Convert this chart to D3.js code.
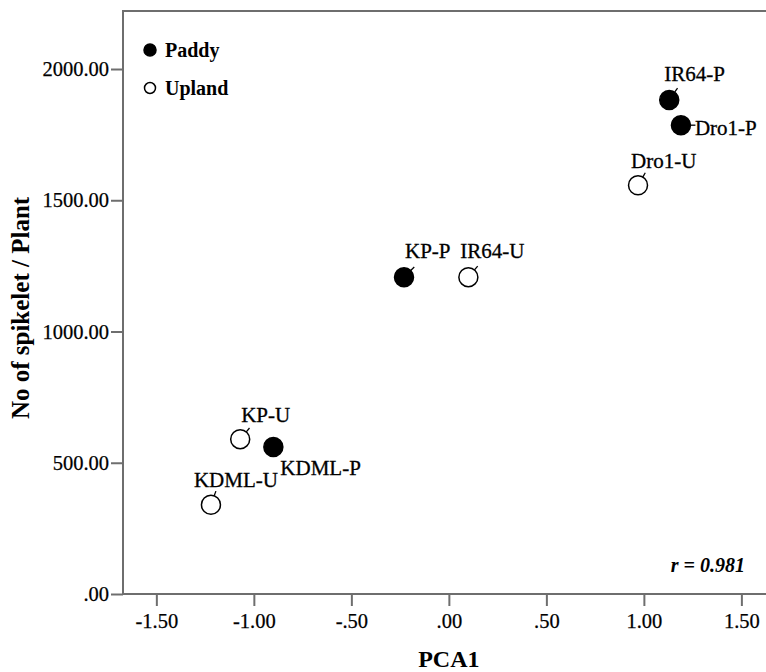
<!DOCTYPE html>
<html>
<head>
<meta charset="utf-8">
<style>
  body { margin: 0; background: #fff; }
  svg { display: block; font-family: "Liberation Serif", "Times New Roman", serif; }
</style>
</head>
<body>
<svg id="chart" width="766" height="672"></svg>
<script src="https://cdn.jsdelivr.net/npm/d3@7/dist/d3.min.js"></script>
<script>

// data
var cultivars = ["IR64-P", "Dro1-P", "Dro1-U", "KP-P", "IR64-U", "KP-U", "KDML-P", "KDML-U"];
var pca1      = [1.13, 1.19, 0.97, -0.23, 0.10, -1.07, -0.90, -1.22];
var spikelets = [1882, 1786, 1557, 1207, 1207, 590, 560, 340];
var system    = ["Paddy", "Paddy", "Upland", "Paddy", "Upland", "Upland", "Paddy", "Upland"];

var xTicks = [-1.5, -1.0, -0.5, 0, 0.5, 1.0, 1.5];
var yTicks = [0, 500, 1000, 1500, 2000];
var legendItems = ["Paddy", "Upland"];
var rText = "r = 0.981";

// label placement (offset from point, leader angle in degrees, null = no leader)
var labelLayout = {
  "IR64-P": { dx: -5, dy: -19, lead: -55 },
  "Dro1-P": { dx: 14, dy: 10, lead: 0 },
  "Dro1-U": { dx: -7, dy: -17, lead: -60 },
  "KP-P":   { dx: 1, dy: -19, lead: -45 },
  "IR64-U": { dx: -8, dy: -19, lead: -50 },
  "KP-U":   { dx: 1, dy: -17, lead: -50 },
  "KDML-P": { dx: 7, dy: 28, lead: null },
  "KDML-U": { dx: -17, dy: -18, lead: -70 }
};

var svg = d3.select("#chart"),
    width = +svg.attr("width"),
    height = +svg.attr("height");

var m = { left: 123, top: 11, right: 772, bottom: 594 };

var x = d3.scaleLinear().domain([-1.671, 1.657]).range([m.left, m.right]);
var y = d3.scaleLinear().domain([0, 2221]).range([m.bottom, m.top]);

var fmt = function(d) {
  var s = d3.format(".2f")(d).replace("\u2212", "-");
  return s.replace(/^(-?)0\./, "$1.");
};

var axisColor = "#6e6e6e";

// frame
svg.append("rect")
    .attr("x", m.left)
    .attr("y", m.top)
    .attr("width", m.right - m.left)
    .attr("height", m.bottom - m.top)
    .attr("fill", "none")
    .attr("stroke", axisColor)
    .attr("stroke-width", 2);

var xAxis = svg.append("g")
    .attr("transform", "translate(0," + m.bottom + ")")
    .call(d3.axisBottom(x).tickValues(xTicks).tickFormat(fmt).tickSize(12).tickSizeOuter(0));
xAxis.select(".domain").remove();
xAxis.selectAll(".tick line").attr("stroke", axisColor).attr("stroke-width", 2);
xAxis.selectAll(".tick text")
    .attr("fill", "#000")
    .attr("stroke", "#000")
    .attr("stroke-width", 0.25)
    .attr("font-family", "Liberation Serif")
    .attr("font-size", 20.5)
    .attr("y", 19)
    .attr("dy", "0.71em");

var yAxis = svg.append("g")
    .attr("transform", "translate(" + m.left + ",0)")
    .call(d3.axisLeft(y).tickValues(yTicks).tickFormat(fmt).tickSize(12).tickSizeOuter(0));
yAxis.select(".domain").remove();
yAxis.selectAll(".tick line").attr("stroke", axisColor).attr("stroke-width", 2);
yAxis.selectAll(".tick text")
    .attr("fill", "#000")
    .attr("stroke", "#000")
    .attr("stroke-width", 0.25)
    .attr("font-family", "Liberation Serif")
    .attr("font-size", 20.5)
    .attr("x", -14);

// axis titles
svg.append("text")
    .attr("x", x(0))
    .attr("y", 667)
    .attr("text-anchor", "middle")
    .attr("font-weight", "bold")
    .attr("font-size", 24)
    .text("PCA1");

svg.append("text")
    .attr("transform", "translate(29,308) rotate(-90)")
    .attr("text-anchor", "middle")
    .attr("font-weight", "bold")
    .attr("font-size", 25)
    .text("No of spikelet / Plant");

// points
var pts = cultivars.map(function(c, i) {
  return { name: c, x: pca1[i], y: spikelets[i], sys: system[i] };
});

var r = 9.5;

var node = svg.append("g").selectAll("g.pt")
  .data(pts)
  .enter().append("g")
    .attr("class", "pt")
    .attr("transform", function(d) { return "translate(" + x(d.x) + "," + y(d.y) + ")"; });

node.filter(function(d) { return labelLayout[d.name].lead !== null; })
  .append("line")
    .attr("x1", function(d) { return r * Math.cos(labelLayout[d.name].lead * Math.PI / 180); })
    .attr("y1", function(d) { return r * Math.sin(labelLayout[d.name].lead * Math.PI / 180); })
    .attr("x2", function(d) { return (r + 5) * Math.cos(labelLayout[d.name].lead * Math.PI / 180); })
    .attr("y2", function(d) { return (r + 5) * Math.sin(labelLayout[d.name].lead * Math.PI / 180); })
    .attr("stroke", "#000")
    .attr("stroke-width", 1.3);

node.append("circle")
    .attr("r", r)
    .attr("fill", function(d) { return d.sys === "Paddy" ? "#000" : "#fff"; })
    .attr("stroke", "#000")
    .attr("stroke-width", 1.5);

node.append("text")
    .attr("x", function(d) { return labelLayout[d.name].dx; })
    .attr("y", function(d) { return labelLayout[d.name].dy; })
    .attr("font-size", 21)
    .attr("stroke", "#000")
    .attr("stroke-width", 0.3)
    .text(function(d) { return d.name; });

// legend
var legend = svg.append("g")
    .selectAll("g")
    .data(legendItems)
    .enter().append("g")
    .attr("transform", function(d, i) { return "translate(150," + (50 + i * 38) + ")"; });

legend.append("circle")
    .attr("r", function(d) { return d === "Paddy" ? 6 : 5.5; })
    .attr("fill", function(d) { return d === "Paddy" ? "#000" : "#fff"; })
    .attr("stroke", "#000")
    .attr("stroke-width", 1.5);

legend.append("text")
    .attr("x", 15)
    .attr("y", 6.5)
    .attr("font-weight", "bold")
    .attr("font-size", 20)
    .text(function(d) { return d; });

// correlation note
svg.append("text")
    .attr("x", 745)
    .attr("y", 572)
    .attr("text-anchor", "end")
    .attr("font-weight", "bold")
    .attr("font-style", "italic")
    .attr("font-size", 20)
    .text(rText);

</script>
</body>
</html>
